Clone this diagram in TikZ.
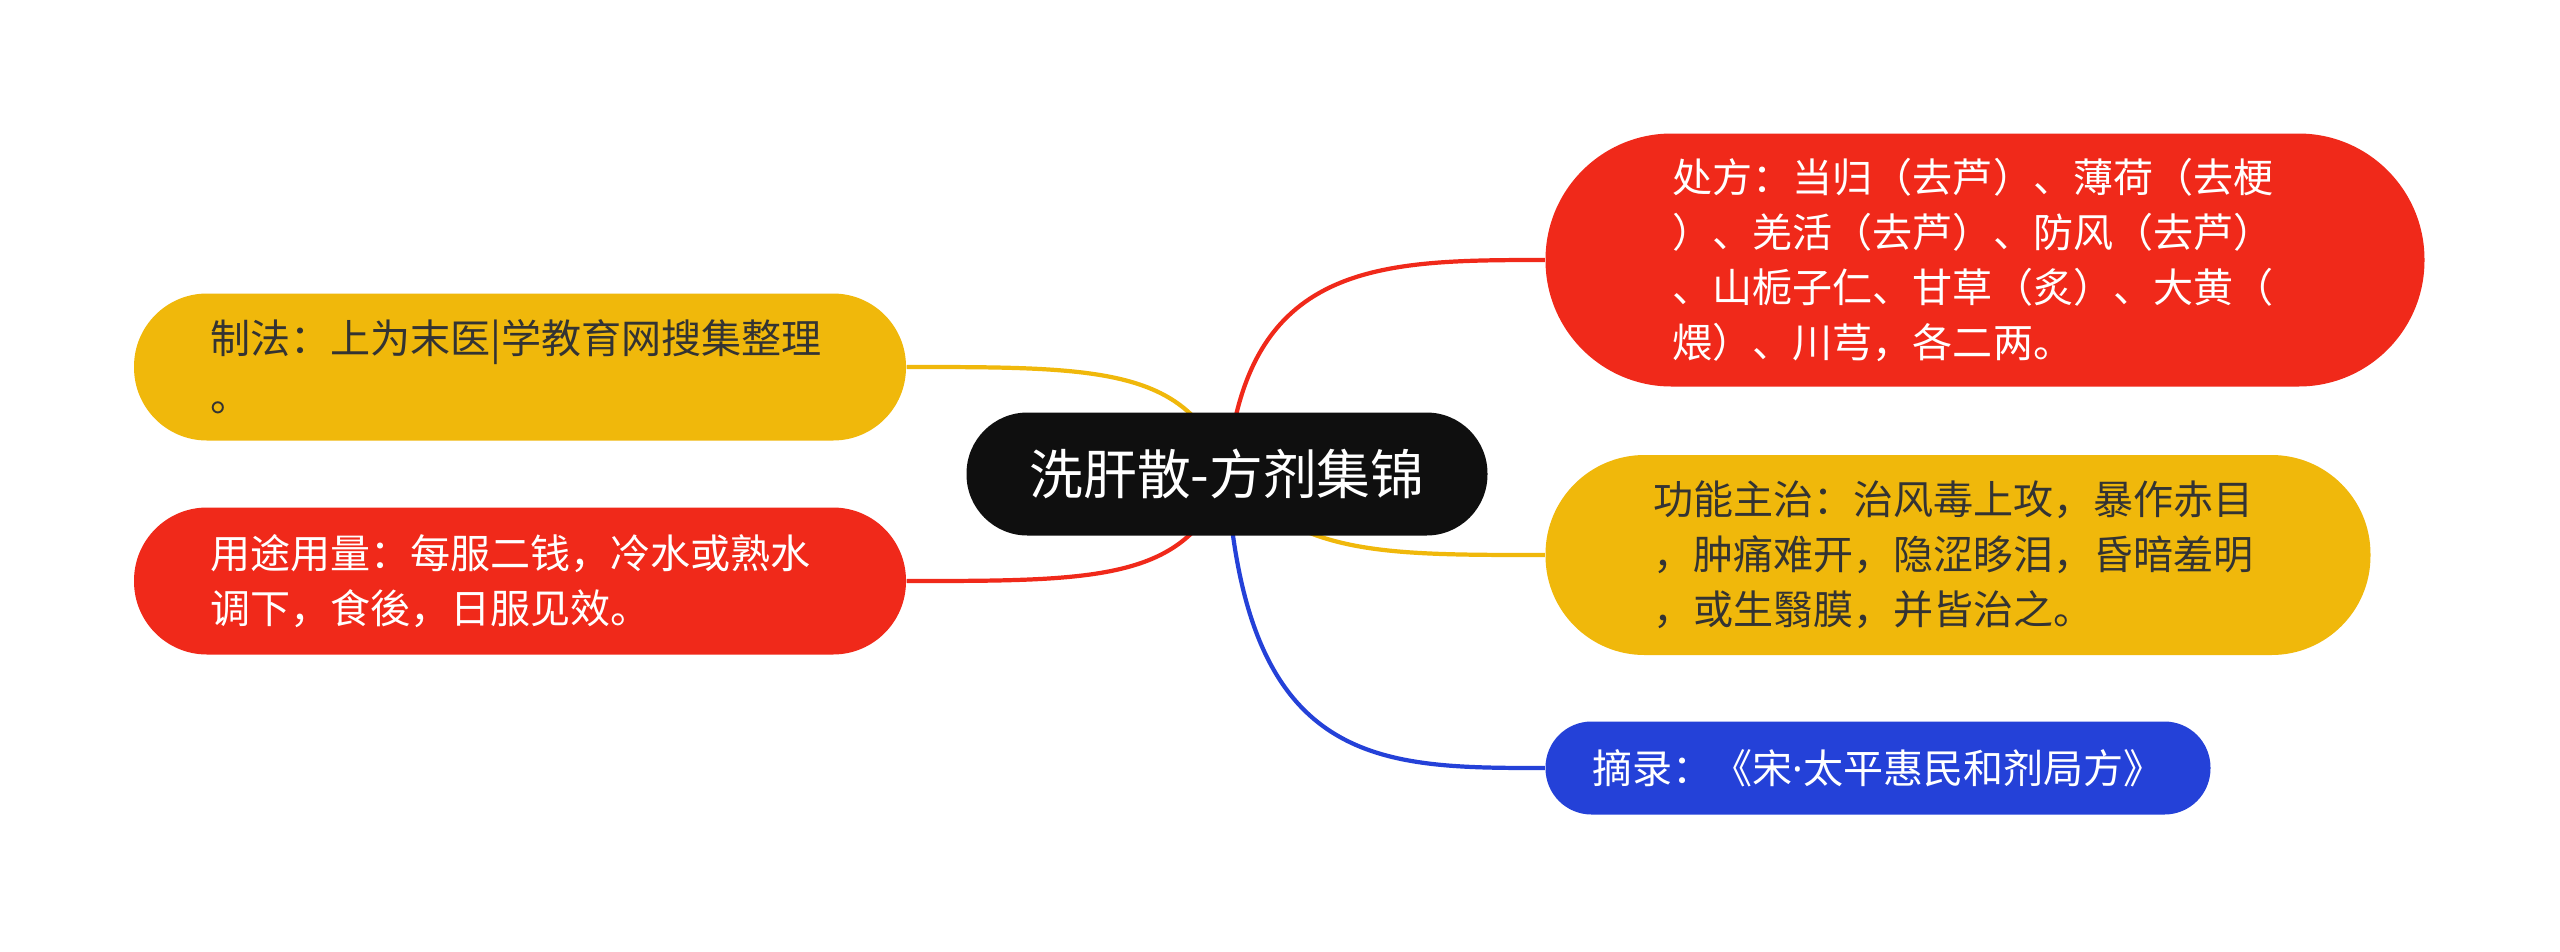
\documentclass[tikz,border=0pt]{standalone}
\usepackage{fontspec}
\newfontfamily\cjk{Noto Sans CJK SC}
\newfontfamily\latinsans{Noto Sans}
\usepackage{tikz}
\usetikzlibrary{backgrounds}
\definecolor{mmred}{HTML}{F0291A}
\definecolor{mmyellow}{HTML}{F0B80B}
\definecolor{mmblue}{HTML}{2441D8}
\definecolor{mmblack}{HTML}{0F0F0F}
\definecolor{mmtext}{HTML}{333333}
\tikzset{
  rootbox/.style={
    rectangle, fill=mmblack, text=white,
    rounded corners=6.1mm, minimum width=52.1mm, minimum height=12.3mm,
    font=\cjk\fontsize{15.3}{18}\selectfont, inner sep=0pt
  },
  topicbox/.style={
    rectangle, fill=#1, text=white,
    font=\cjk\fontsize{11.4}{15.6}\selectfont, align=left,
    inner sep=0pt
  },
  topicbox/.default=mmred,
  branch/.style={line width=1.2pt, color=#1},
  branch/.default=mmred,
}
\begin{document}
\begin{tikzpicture}[x=0.1mm, y=-0.1mm]
  \useasboundingbox (0,0) rectangle (2560,951);
  \node[rootbox] at (1227,474) (root) {洗肝散-方剂集锦};
  % right side
  \node[topicbox=mmred, minimum width=87.9mm, minimum height=25.3mm,
        rounded corners=12.6mm, text width=62.5mm] at (1985,260) (chufang)
    {处方：当归（去芦）、薄荷（去梗\\）、羌活（去芦）、防风（去芦）\\、山栀子仁、甘草（炙）、大黄（\\煨）、川芎，各二两。};
  \node[topicbox=mmyellow, text=mmtext, minimum width=82.5mm, minimum height=20mm,
        rounded corners=9.9mm, text width=61mm] at (1958,555) (gongneng)
    {功能主治：治风毒上攻，暴作赤目\\，肿痛难开，隐涩眵泪，昏暗羞明\\，或生翳膜，并皆治之。};
  \node[topicbox=mmblue, minimum width=66.5mm, minimum height=9.3mm,
        rounded corners=4.6mm] at (1878,768) (zhailu)
    {摘录：《宋{\latinsans·}太平惠民和剂局方》};
  % left side
  \node[topicbox=mmyellow, text=mmtext, minimum width=77.2mm, minimum height=14.7mm,
        rounded corners=7.3mm, text width=62mm] at (520,367) (zhifa)
    {制法：上为末医|学教育网搜集整理\\[1pt]。};
  \node[topicbox=mmred, minimum width=77.2mm, minimum height=14.7mm,
        rounded corners=7.3mm, text width=62mm] at (520,581) (yongtu)
    {用途用量：每服二钱，冷水或熟水\\调下，食後，日服见效。};
  \begin{scope}[on background layer]
    \fill[white] (0,0) rectangle (2560,951);
    \draw[branch=mmred] (root.center) .. controls +(18,-213) and +(-166,0) .. (chufang.west);
    \draw[branch=mmyellow] (root.center) .. controls +(73,81) and +(-166,0) .. (gongneng.west);
    \draw[branch=mmblue] (root.center) .. controls +(18,294) and +(-166,0) .. (zhailu.west);
    \draw[branch=mmyellow] (root.center) .. controls +(-37,-107) and +(194,0) .. (zhifa.east);
    \draw[branch=mmred] (root.center) .. controls +(-37,107) and +(194,0) .. (yongtu.east);
  \end{scope}
\end{tikzpicture}
\end{document}
